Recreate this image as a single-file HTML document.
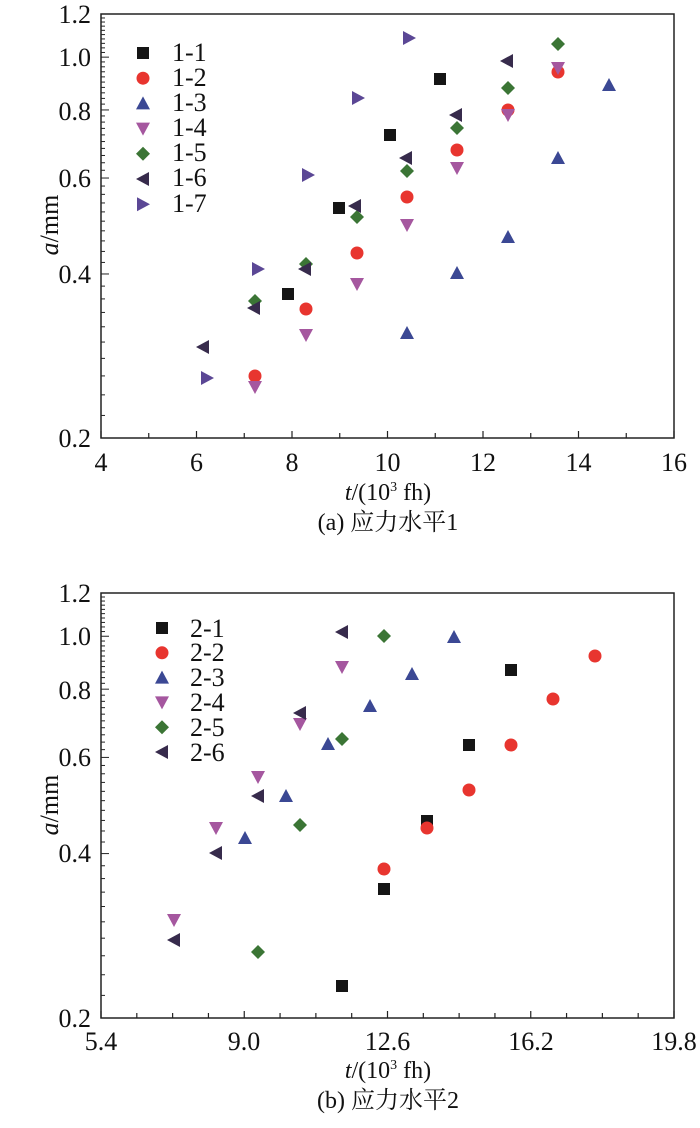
<!DOCTYPE html>
<html><head><meta charset="utf-8"><style>
html,body{margin:0;padding:0;background:#fff;}
svg{display:block;}
text{font-family:"Liberation Serif","Noto Serif CJK SC",serif;fill:#111;}
</style></head><body>
<svg id="s" width="700" height="1128" viewBox="0 0 700 1128" xmlns="http://www.w3.org/2000/svg">
<g id="g"></g>
<g font-size="26">
<text x="91" y="23" text-anchor="end">1.2</text>
<text x="91" y="66" text-anchor="end">1.0</text>
<text x="91" y="120" text-anchor="end">0.8</text>
<text x="91" y="187" text-anchor="end">0.6</text>
<text x="91" y="283" text-anchor="end">0.4</text>
<text x="91" y="447" text-anchor="end">0.2</text>
<text x="101" y="471" text-anchor="middle">4</text>
<text x="196.5" y="471" text-anchor="middle">6</text>
<text x="292" y="471" text-anchor="middle">8</text>
<text x="387.5" y="471" text-anchor="middle">10</text>
<text x="483" y="471" text-anchor="middle">12</text>
<text x="578.5" y="471" text-anchor="middle">14</text>
<text x="674" y="471" text-anchor="middle">16</text>
<text x="388" y="500" text-anchor="middle" font-size="24"><tspan font-style="italic">t</tspan>/(10<tspan font-size="14" dy="-9">3</tspan><tspan dy="9"> fh)</tspan></text>
<text x="388" y="530" text-anchor="middle" font-size="24">(a) 应力水平1</text>
<text transform="translate(58,225) rotate(-90)" text-anchor="middle"><tspan font-style="italic">a</tspan>/mm</text>
<text x="172" y="61">1-1</text><text x="172" y="86">1-2</text><text x="172" y="111">1-3</text><text x="172" y="136">1-4</text><text x="172" y="161">1-5</text><text x="172" y="186">1-6</text><text x="172" y="212">1-7</text>
</g>
<g font-size="26">
<text x="91" y="602" text-anchor="end">1.2</text>
<text x="91" y="645" text-anchor="end">1.0</text>
<text x="91" y="699" text-anchor="end">0.8</text>
<text x="91" y="766" text-anchor="end">0.6</text>
<text x="91" y="862" text-anchor="end">0.4</text>
<text x="91" y="1027" text-anchor="end">0.2</text>
<text x="101" y="1050" text-anchor="middle">5.4</text>
<text x="244" y="1050" text-anchor="middle">9.0</text>
<text x="387.5" y="1050" text-anchor="middle">12.6</text>
<text x="531" y="1050" text-anchor="middle">16.2</text>
<text x="674" y="1050" text-anchor="middle">19.8</text>
<text x="388" y="1078" text-anchor="middle" font-size="24"><tspan font-style="italic">t</tspan>/(10<tspan font-size="14" dy="-9">3</tspan><tspan dy="9"> fh)</tspan></text>
<text x="388" y="1108" text-anchor="middle" font-size="24">(b) 应力水平2</text>
<text transform="translate(58,805) rotate(-90)" text-anchor="middle"><tspan font-style="italic">a</tspan>/mm</text>
<text x="190" y="637">2-1</text><text x="190" y="661">2-2</text><text x="190" y="686">2-3</text><text x="190" y="711">2-4</text><text x="190" y="736">2-5</text><text x="190" y="761">2-6</text>
</g>
</svg>
<script>
var NS="http://www.w3.org/2000/svg",g=document.getElementById("g");
function el(t,a){var e=document.createElementNS(NS,t);for(var k in a)e.setAttribute(k,a[k]);g.appendChild(e);return e;}
var C={sq:"#151515",ci:"#e8352f",up:"#3b4894",dn:"#a5579f",di:"#3b7535",lt:"#372b4c",rt:"#5b4795"};
function mk(t,x,y){var c=C[t];
 if(t=="sq")el("rect",{x:x-6,y:y-6,width:12,height:12,fill:c});
 else if(t=="ci")el("circle",{cx:x,cy:y,r:6.5,fill:c});
 else if(t=="up")el("polygon",{points:(x-7)+","+(y+6)+" "+(x+7)+","+(y+6)+" "+x+","+(y-7),fill:c});
 else if(t=="dn")el("polygon",{points:(x-7)+","+(y-6)+" "+(x+7)+","+(y-6)+" "+x+","+(y+7),fill:c});
 else if(t=="di")el("polygon",{points:x+","+(y-7)+" "+(x+7)+","+y+" "+x+","+(y+7)+" "+(x-7)+","+y,fill:c});
 else if(t=="lt")el("polygon",{points:(x+6)+","+(y-7)+" "+(x+6)+","+(y+7)+" "+(x-7)+","+y,fill:c});
 else if(t=="rt")el("polygon",{points:(x-6)+","+(y-7)+" "+(x-6)+","+(y+7)+" "+(x+7)+","+y,fill:c});
}
function axes(top,bot,xt,xmaj){
 el("rect",{x:101,y:top,width:573,height:bot-top,fill:"none",stroke:"#222","stroke-width":1.5});
 var h=bot-top,k=h/Math.log(6);
 for(var v=0.2;v<1.2001;v+=0.02){var y=bot-k*Math.log(v/0.2);var m=Math.abs(v*10-Math.round(v*10))<0.01&&Math.round(v*10)%2==0;
  el("line",{x1:101,x2:101+(m?8:4),y1:y,y2:y,stroke:"#222","stroke-width":1});}
 for(var i=0;i<xt.length;i++){var x=xt[i],m=xmaj[i];el("line",{x1:x,x2:x,y1:bot,y2:bot-(m?7:5),stroke:"#222","stroke-width":1.2});}
}
var t1=[],m1=[];for(var i=0;i<=12;i++){t1.push(101+i*573/12);m1.push(i%2==0);}
axes(14,438,t1,m1);
var t2=[],m2=[];for(var i=0;i<=16;i++){t2.push(101+i*573/16);m2.push(i%4==0);}
axes(593,1018,t2,m2);
var D=[
["sq",[[288,294],[339,208],[390,135],[440,79]]],
["ci",[[255,376],[306,309],[357,253],[407,197],[457,150],[508,110],[558,72]]],
["up",[[407,333],[457,273],[508,237],[558,158],[609,85]]],
["dn",[[255,387],[306,335],[357,284],[407,225],[457,168],[508,115],[558,68]]],
["di",[[255,301],[306,264],[357,217],[407,171],[457,128],[508,88],[558,44]]],
["lt",[[203,347],[254,308],[305,269],[355,206],[406,158],[456,115],[507,61]]],
["rt",[[207,378],[258,269],[308,175],[358,98],[409,38]]],
["sq",[[342,986],[384,889],[427,821],[469,745],[511,670]]],
["ci",[[384,869],[427,828],[469,790],[511,745],[553,699],[595,656]]],
["up",[[245,838],[286,796],[328,744],[370,706],[412,674],[454,637]]],
["dn",[[174,920],[216,828],[258,777],[300,724],[342,667]]],
["di",[[258,952],[300,825],[342,739],[384,636]]],
["lt",[[174,940],[216,853],[258,796],[300,713],[342,632]]]
];
D.forEach(function(d){d[1].forEach(function(p){mk(d[0],p[0],p[1]);});});
var L1=["sq","ci","up","dn","di","lt","rt"];L1.forEach(function(t,i){mk(t,143,53+i*25.2);});
var L2=["sq","ci","up","dn","di","lt"];L2.forEach(function(t,i){mk(t,162,628+i*24.8);});
</script>
</body></html>
